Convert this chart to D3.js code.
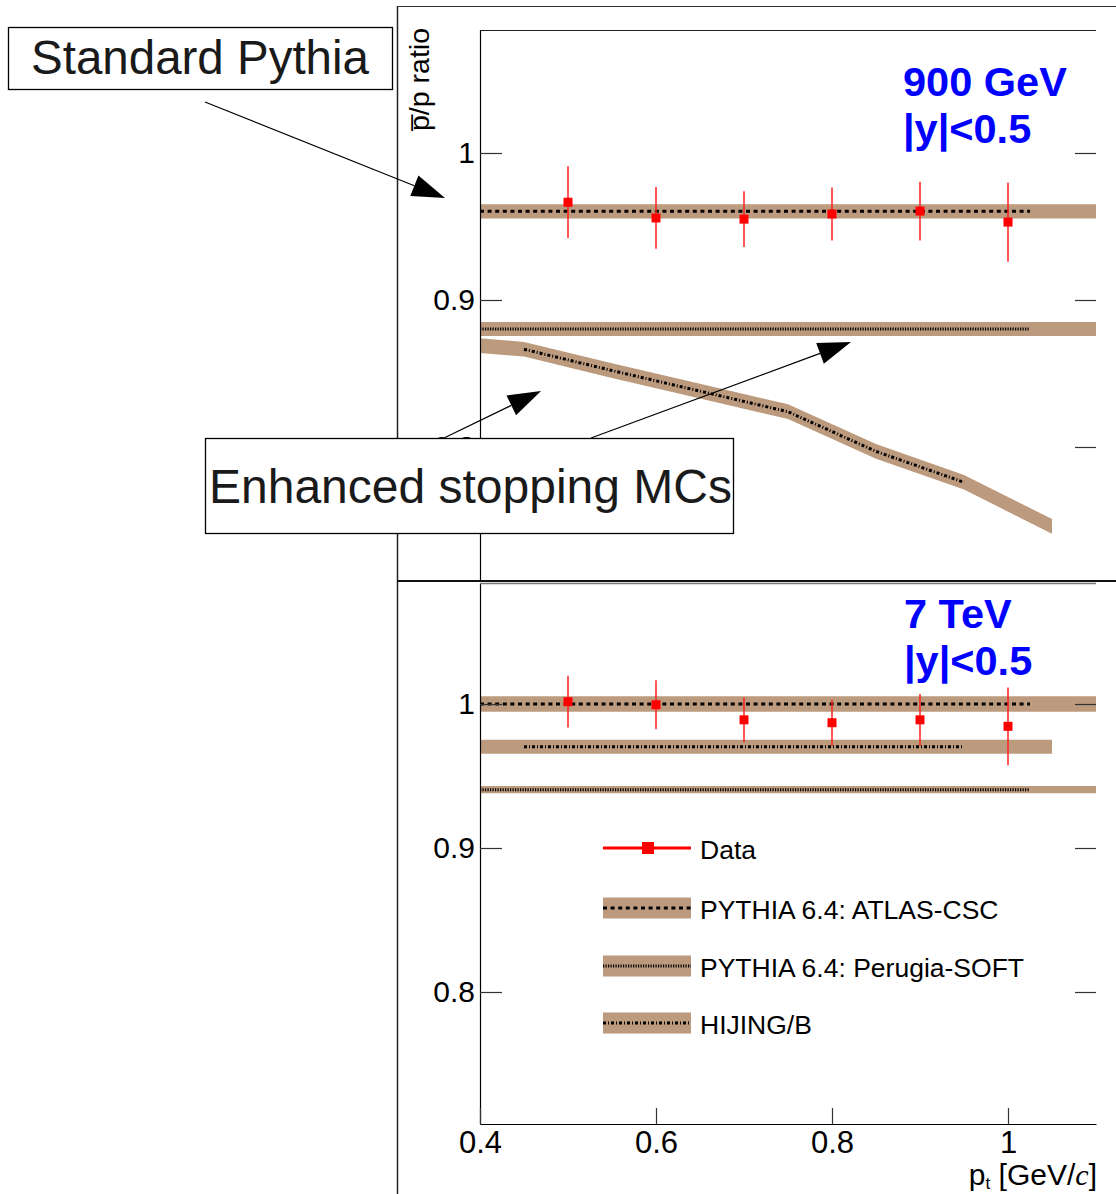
<!DOCTYPE html>
<html>
<head>
<meta charset="utf-8">
<script src="https://cdn.jsdelivr.net/npm/d3@7"></script>
<style>
  html, body { margin: 0; padding: 0; background: #fff; }
  svg { display: block; font-family: "Liberation Sans", Arial, sans-serif; }
</style>
</head>
<body>
<svg id="fig" width="1116" height="1194"></svg>
<script>
// pbar/p ratio vs pt, data against MC models, two energies

// measured points
const dataPt = [0.5, 0.6, 0.7, 0.8, 0.9, 1.0];
const ratio900 = [0.9665, 0.9558, 0.955, 0.9585, 0.9605, 0.953];
const err900 = [0.0245, 0.021, 0.019, 0.018, 0.020, 0.027];
const ratio7 = [1.0016, 0.9995, 0.989, 0.987, 0.989, 0.9845];
const err7 = [0.018, 0.017, 0.0156, 0.016, 0.018, 0.027];

// models: band extent and central-line extent
const pythiaPt = [0.4, 1.1];
const pythiaLinePt = [0.4, 1.025];
const atlas900 = [0.9603, 0.9603];
const atlas7 = [1.0, 1.0];
const perugia900 = [0.8803, 0.8803];
const perugia7 = [0.9405, 0.9405];

const hijingPt = [0.4, 0.45, 0.55, 0.65, 0.75, 0.85, 0.95, 1.05];
const hijing900 = [0.869, 0.8665, 0.852, 0.838, 0.824, 0.797, 0.776, 0.746];
const hijing7 = [0.9703, 0.9703, 0.9703, 0.9703, 0.9703, 0.9703, 0.9703, 0.9703];
const hijingLineRange = [0.45, 0.95];

// band half widths
const halfW900 = { atlas: 0.0048, perugia: 0.0048, hijing: 0.005 };
const halfW7 = { atlas: 0.0053, perugia: 0.0025, hijing: 0.0048 };

const xTicks = [0.4, 0.6, 0.8, 1.0];
const yTicks = [0.8, 0.9, 1.0];

const legendNames = ["Data", "PYTHIA 6.4: ATLAS-CSC", "PYTHIA 6.4: Perugia-SOFT", "HIJING/B"];

const bandColor = "#bc9a7d";
const dashes = { atlas: "4,3.6", perugia: "1.2,1.3", hijing: "3,2,1,2" };

const svg = d3.select("#fig");

const x = d3.scaleLinear().domain([0.4, 1.1]).range([480, 1096]);
const yTop = d3.scaleLinear().domain([0.70952, 1.08367]).range([580, 30]);
const yBot = d3.scaleLinear().domain([0.70833, 1.08403]).range([1124, 583]);

// pad borders
svg.append("line").attr("x1", 397.5).attr("y1", 6).attr("x2", 397.5).attr("y2", 1194)
  .attr("stroke", "#222").attr("stroke-width", 1.5);
svg.append("line").attr("x1", 397).attr("y1", 6.5).attr("x2", 1116).attr("y2", 6.5)
  .attr("stroke", "#333").attr("stroke-width", 1.2);

function zip(xs, ys) { return xs.map((v, i) => [v, ys[i]]); }

function drawModel(g, y, pts, vals, half, linePt, dash) {
  const rows = zip(pts, vals);
  g.append("path")
    .datum(rows)
    .attr("fill", bandColor)
    .attr("d", d3.area().x(d => x(d[0])).y0(d => y(d[1] - half)).y1(d => y(d[1] + half)));
  // central line, limited to its own pt range
  const interp = p => {
    for (let i = 0; i < pts.length - 1; i++) {
      if (p >= pts[i] && p <= pts[i + 1]) {
        const t = (p - pts[i]) / (pts[i + 1] - pts[i]);
        return vals[i] + t * (vals[i + 1] - vals[i]);
      }
    }
    return vals[vals.length - 1];
  };
  const inner = pts.filter(p => p > linePt[0] && p < linePt[1]);
  const lineRows = [linePt[0], ...inner, linePt[1]].map(p => [p, interp(p)]);
  g.append("path")
    .datum(lineRows)
    .attr("fill", "none")
    .attr("stroke", "#000")
    .attr("stroke-width", 3)
    .attr("stroke-dasharray", dash)
    .attr("d", d3.line().x(d => x(d[0])).y(d => y(d[1])));
}

function drawData(g, y, vals, errs) {
  const pts = dataPt.map((p, i) => ({ p, v: vals[i], e: errs[i] }));
  g.selectAll(".err").data(pts).join("line")
    .attr("x1", d => x(d.p)).attr("x2", d => x(d.p))
    .attr("y1", d => y(d.v + d.e)).attr("y2", d => y(d.v - d.e))
    .attr("stroke", "#ff2020").attr("stroke-width", 1.5);
  g.selectAll(".mk").data(pts).join("rect")
    .attr("x", d => x(d.p) - 4.5).attr("y", d => y(d.v) - 4.5)
    .attr("width", 9).attr("height", 9)
    .attr("fill", "#ff0000");
}

function drawPanel(y, opts) {
  const g = svg.append("g");
  drawModel(g, y, pythiaPt, opts.atlas, opts.half.atlas, pythiaLinePt, dashes.atlas);
  drawModel(g, y, pythiaPt, opts.perugia, opts.half.perugia, pythiaLinePt, dashes.perugia);
  drawModel(g, y, hijingPt, opts.hijing, opts.half.hijing, hijingLineRange, dashes.hijing);
  drawData(g, y, opts.data, opts.err);

  // left axis, ticks pointing inward
  const left = svg.append("g")
    .attr("transform", "translate(480,0)")
    .call(d3.axisLeft(y).tickValues(yTicks).tickSize(-22).tickSizeOuter(0).tickPadding(5)
      .tickFormat(d => String(+d.toFixed(1))));
  left.select(".domain").attr("stroke", "#000").attr("stroke-width", 1.2);
  left.selectAll(".tick line").attr("stroke", "#333").attr("stroke-width", 1.2);
  left.selectAll("text").attr("font-size", 30).attr("fill", "#000")
    .attr("font-family", "Liberation Sans, Arial, sans-serif");

  // right-hand ticks only
  const right = svg.append("g")
    .attr("transform", "translate(1096,0)")
    .call(d3.axisRight(y).tickValues(yTicks).tickSize(-21).tickFormat(""));
  right.select(".domain").remove();
  right.selectAll(".tick line").attr("stroke", "#333").attr("stroke-width", 1.2);

  // energy label
  const lab = svg.append("text")
    .attr("x", opts.labelX).attr("y", opts.labelY)
    .attr("fill", "#0000ff").attr("font-weight", "bold").attr("font-size", 41.5);
  lab.append("tspan").attr("x", opts.labelX).text(opts.label);
  lab.append("tspan").attr("x", opts.labelX).attr("dy", 47).text("|y|<0.5");
  return g;
}

drawPanel(yTop, {
  atlas: atlas900, perugia: perugia900, hijing: hijing900,
  half: halfW900, data: ratio900, err: err900,
  label: "900 GeV", labelX: 903, labelY: 96
});
drawPanel(yBot, {
  atlas: atlas7, perugia: perugia7, hijing: hijing7,
  half: halfW7, data: ratio7, err: err7,
  label: "7 TeV", labelX: 904, labelY: 628
});

// frame tops and separators
svg.append("line").attr("x1", 480).attr("y1", 30.5).attr("x2", 1096).attr("y2", 30.5)
  .attr("stroke", "#222").attr("stroke-width", 1.2);
svg.append("line").attr("x1", 480).attr("y1", 583.5).attr("x2", 1096).attr("y2", 583.5)
  .attr("stroke", "#777").attr("stroke-width", 1.5);
svg.append("line").attr("x1", 397).attr("y1", 581).attr("x2", 1116).attr("y2", 581)
  .attr("stroke", "#111").attr("stroke-width", 2);

// x axis (bottom panel)
const xAxis = svg.append("g")
  .attr("transform", "translate(0,1124)")
  .call(d3.axisBottom(x).tickValues(xTicks).tickSize(-16).tickSizeOuter(0).tickPadding(7)
    .tickFormat(d => String(+d.toFixed(1))));
xAxis.select(".domain").attr("stroke", "#000").attr("stroke-width", 1.2);
xAxis.selectAll(".tick line").attr("stroke", "#333").attr("stroke-width", 1.2);
xAxis.selectAll("text").attr("font-size", 31).attr("fill", "#000")
  .attr("font-family", "Liberation Sans, Arial, sans-serif");

// axis titles
const xt = svg.append("text").attr("x", 1097).attr("y", 1185)
  .attr("text-anchor", "end").attr("font-size", 30).attr("fill", "#000");
xt.append("tspan").text("p");
xt.append("tspan").attr("font-size", 17).attr("dy", 4).text("t");
xt.append("tspan").attr("dy", -4).text("  [GeV/");
xt.append("tspan").attr("font-family", "Liberation Serif, serif").attr("font-style", "italic").text("c");
xt.append("tspan").text("]");

const yt = svg.append("text")
  .attr("transform", "translate(429,28) rotate(-90)")
  .attr("text-anchor", "end").attr("font-size", 28.5).attr("fill", "#000");
yt.append("tspan").text("p\u0305");
yt.append("tspan").text("/p ratio");

// legend
const leg = svg.append("g").attr("transform", "translate(603,0)");
const legRows = [848, 908, 966, 1023];
const legKeys = [null, "atlas", "perugia", "hijing"];
legRows.forEach((cy, i) => {
  if (i === 0) {
    leg.append("line").attr("x1", 0).attr("x2", 88).attr("y1", cy).attr("y2", cy)
      .attr("stroke", "#ff0000").attr("stroke-width", 3);
    leg.append("rect").attr("x", 39).attr("y", cy - 6).attr("width", 12).attr("height", 12)
      .attr("fill", "#ff0000");
  } else {
    leg.append("rect").attr("x", 0).attr("y", cy - 10.5).attr("width", 88).attr("height", 21)
      .attr("fill", bandColor);
    leg.append("line").attr("x1", 0).attr("x2", 88).attr("y1", cy).attr("y2", cy)
      .attr("stroke", "#000").attr("stroke-width", 3)
      .attr("stroke-dasharray", dashes[legKeys[i]]);
  }
  leg.append("text").attr("x", 97).attr("y", cy + 10.5)
    .attr("font-size", 26.5).attr("fill", "#000").text(legendNames[i]);
});

// annotation arrows and boxes
function arrow(x1, y1, x2, y2) {
  const len = 33, hw = 11;
  const dx = x2 - x1, dy = y2 - y1, l = Math.hypot(dx, dy);
  const ux = dx / l, uy = dy / l;
  const bx = x2 - ux * len, by = y2 - uy * len;
  svg.append("line").attr("x1", x1).attr("y1", y1).attr("x2", bx).attr("y2", by)
    .attr("stroke", "#000").attr("stroke-width", 1.2);
  svg.append("path")
    .attr("d", d3.line()([[x2, y2], [bx - uy * hw, by + ux * hw], [bx + uy * hw, by - ux * hw]]) + "Z")
    .attr("fill", "#000");
}

function box(x0, y0, w, h, label, tx, ty, fs) {
  svg.append("rect").attr("x", x0).attr("y", y0).attr("width", w).attr("height", h)
    .attr("fill", "#fff").attr("stroke", "#000").attr("stroke-width", 1.3);
  svg.append("text").attr("x", tx).attr("y", ty)
    .attr("font-size", fs).attr("fill", "#1a1a1a").text(label);
}

arrow(205, 102, 445, 198);
box(8.5, 27.5, 384, 62, "Standard Pythia", 31, 74, 47.5);

arrow(444, 438, 541, 391);
arrow(591, 438, 851, 342);
box(205.5, 438.5, 528, 95, "Enhanced stopping MCs", 209, 503, 48);
</script>
</body>
</html>
